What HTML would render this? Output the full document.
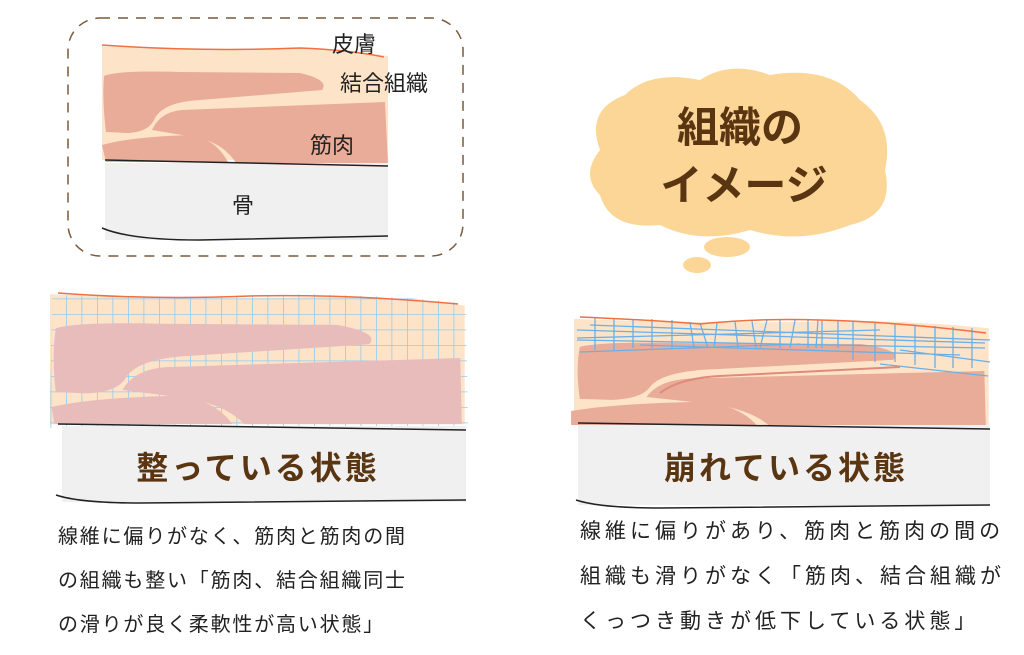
<!DOCTYPE html>
<html><head><meta charset="utf-8"><style>
body{margin:0;background:#fff;}
svg{display:block}
.t{font-family:"Liberation Sans","Noto Sans CJK JP",sans-serif;fill:#222}
.b{font-family:"Liberation Sans","Noto Sans CJK JP",sans-serif;font-weight:bold;fill:#5a3512}
</style></head><body>
<svg width="1024" height="655" viewBox="0 0 1024 655" xmlns="http://www.w3.org/2000/svg">
<defs>
<pattern id="grid" width="15.5" height="15.5" patternUnits="userSpaceOnUse" x="4" y="4">
<path d="M0,0 V15.5 M0,0 H15.5" stroke="#8fcdf0" stroke-width="1.6" fill="none"/>
</pattern>
<clipPath id="lc"><path d="M52,295 Q200,300 300,294 Q400,296 466,303 L468,428 L50,428 Z"/></clipPath>
</defs>

<rect x="68" y="18" width="395" height="238" rx="32" fill="none" stroke="#7a5a3a" stroke-width="1.5" stroke-dasharray="10,8"/>
<g>
<path d="M102,46 Q200,52 300,48 Q350,50 388,56 L388,160 L102,160 Z" fill="#fde4c8"/>
<path d="M104,76 Q120,70 180,72 L300,73 Q330,80 322,90 L200,100 Q162,102 154,120 Q148,132 128,133 L106,132 Q102,100 104,76 Z" fill="#e8ac98"/>
<path d="M152,130 Q160,112 182,110 L385,102 L388,163 L236,163 Q225,145 200,138 Z" fill="#e8ac98"/>
<path d="M102,145 Q130,137 190,135 Q215,138 228,162 L106,162 Z" fill="#e8ac98"/>
<path d="M102,45 Q200,52 300,48 Q350,50 384,57" stroke="#f07040" stroke-width="1.5" fill="none"/>
<rect x="105" y="163" width="283" height="77" fill="#f0f0f0"/>
<path d="M105,160 L388,166" stroke="#222" stroke-width="1.5"/>
<path d="M102,228 Q130,240 200,240 L388,236" stroke="#222" stroke-width="1.5" fill="none"/>
</g>
<text class="t" x="332" y="52" font-size="22">皮膚</text>
<text class="t" x="340" y="91" font-size="22">結合組織</text>
<text class="t" x="310" y="153" font-size="22">筋肉</text>
<text class="t" x="232" y="213" font-size="22">骨</text>

<path d="M600,150 Q585,110 625,95 Q650,70 700,80 Q730,60 770,75 Q830,65 860,100 Q895,125 885,170 Q895,215 850,225 Q800,245 750,230 Q700,245 660,225 Q610,230 600,195 Q580,175 600,150 Z" fill="#fcd697"/>
<ellipse cx="727" cy="247" rx="23" ry="10" fill="#fcd697"/>
<ellipse cx="697" cy="265" rx="14" ry="8" fill="#fcd697"/>
<text class="b" x="740" y="142" font-size="42" text-anchor="middle">組織の</text>
<text class="b" x="744" y="200" font-size="42" text-anchor="middle">イメージ</text>

<g transform="translate(50,293) scale(1.45,1.14) translate(-102,-45)">
<path d="M102,46 Q200,52 300,48 Q350,50 388,56 L388,160 L102,160 Z" fill="#fde4c8"/>
</g>
<rect x="50" y="290" width="420" height="140" fill="url(#grid)" clip-path="url(#lc)"/>
<g transform="translate(50,293) scale(1.45,1.14) translate(-102,-45)">
<path d="M106,76 Q120,70 180,72 L300,73 Q330,80 322,90 L200,100 Q162,102 154,120 Q148,132 128,133 L106,132 Q103,100 106,76 Z" fill="#e9bcbc"/>
<path d="M152,130 Q160,112 182,110 L385,102 L386,160 L236,160 Q225,145 200,138 Z" fill="#e9bcbc"/>
<path d="M103,145 Q130,137 190,135 Q215,138 228,160 L105,160 Z" fill="#e9bcbc"/>
</g>
<path d="M58,293 Q150,300 250,296 Q350,294 458,304" stroke="#f07040" stroke-width="1.5" fill="none"/>
<rect x="62" y="426" width="404" height="76" fill="#f0f0f0"/>
<path d="M58,424 L466,430" stroke="#222" stroke-width="1.5"/>
<path d="M56,495 Q80,503 140,503 L466,500" stroke="#222" stroke-width="1.5" fill="none"/>
<text class="b" x="258" y="479" font-size="32" text-anchor="middle" letter-spacing="3">整っている状態</text>

<g transform="translate(574,318) scale(1.45,0.93) translate(-102,-45)">
<path d="M102,46 Q200,52 300,48 Q350,50 388,56 L388,160 L102,160 Z" fill="#fde4c8"/>
<path d="M106,76 Q120,70 180,72 L300,73 Q330,80 322,90 L200,100 Q162,102 154,120 Q148,132 128,133 L106,132 Q103,100 106,76 Z" fill="#e8ac98"/>
<path d="M152,130 Q160,112 182,110 L385,102 L386,160 L236,160 Q225,145 200,138 Z" fill="#e8ac98"/>
<path d="M100,145 Q130,137 190,135 Q215,138 228,160 L100,160 Z" fill="#e8ac98"/>
</g>
<g stroke="#6ab0e8" stroke-width="1.3" fill="none">
<path d="M577,330 L985,343 M577,340 L985,348 M580,352 L800,344 M640,345 L960,355 M577,338 L880,330 M900,350 L990,362 M880,364 L988,376 M590,325 L990,340"/>
<path d="M595,318 V350 M614,318 V350 M633,319 V348 M652,319 V348 M672,320 V348 M690,322 L694,348 M700,323 L708,348 M717,323 L714,348 M735,321 L738,348 M752,321 L756,348 M767,320 L760,348 M780,320 V348 M795,320 L790,348 M808,320 V348 M818,320 L816,348 M822,320 V348 M838,320 V348 M853,322 V360 M875,323 V362 M895,324 V362 M915,325 V365 M935,326 V368 M953,327 V368 M972,328 V368"/>
</g>
<path d="M580,317 Q650,320 700,324 Q760,318 820,320 Q900,322 986,333" stroke="#f07040" stroke-width="1.5" fill="none"/>
<path d="M660,393 Q680,378 720,376 L900,367" stroke="#e08a7a" stroke-width="2" fill="none"/>
<rect x="578" y="425" width="412" height="80" fill="#f0f0f0"/>
<path d="M578,423 L990,429" stroke="#222" stroke-width="1.5"/>
<path d="M576,500 Q600,508 660,508 L990,505" stroke="#222" stroke-width="1.5" fill="none"/>
<text class="b" x="786" y="479" font-size="32" text-anchor="middle" letter-spacing="3">崩れている状態</text>

<g class="t" font-size="20" letter-spacing="1.8">
<text x="58" y="543">線維に偏りがなく、筋肉と筋肉の間</text>
<text x="58" y="587">の組織も整い「筋肉、結合組織同士</text>
<text x="58" y="631">の滑りが良く柔軟性が高い状態」</text>
</g>
<g class="t" font-size="21" letter-spacing="4">
<text x="580" y="538">線維に偏りがあり、筋肉と筋肉の間の</text>
<text x="580" y="583">組織も滑りがなく「筋肉、結合組織が</text>
<text x="580" y="628">くっつき動きが低下している状態」</text>
</g>
</svg>
</body></html>
